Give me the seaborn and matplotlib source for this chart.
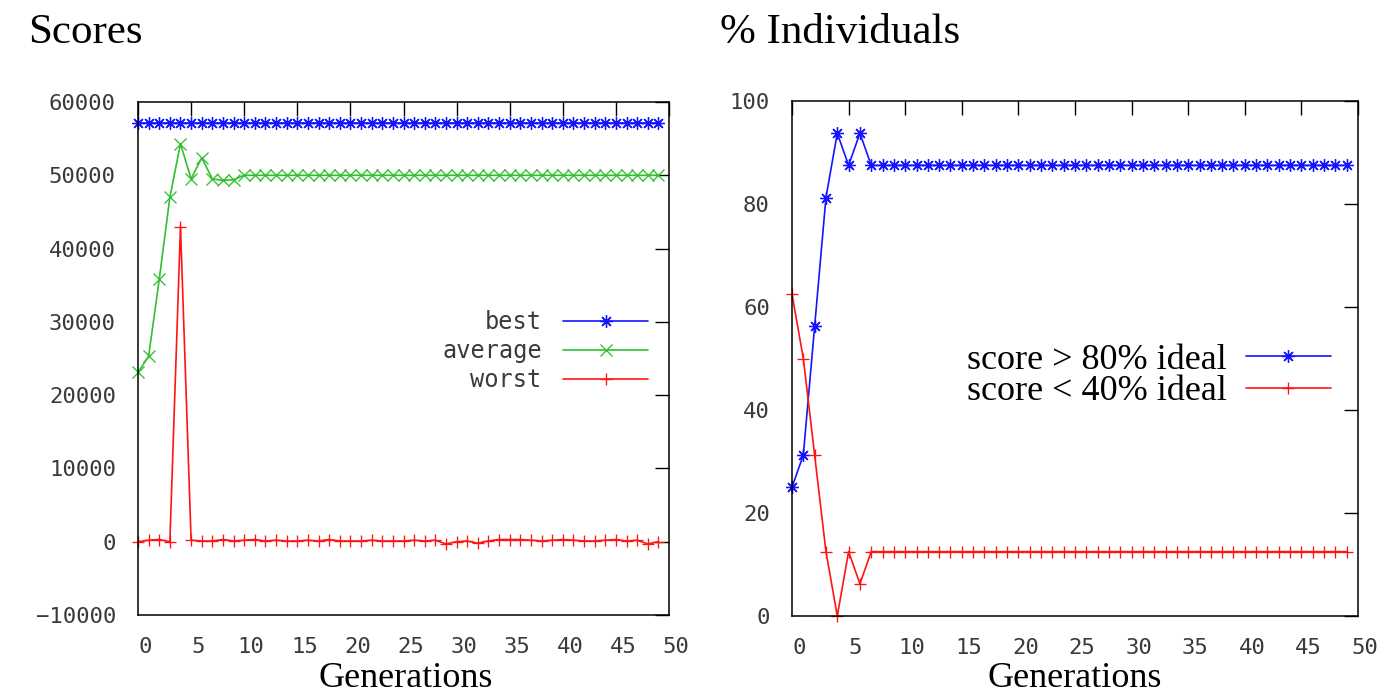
import matplotlib
matplotlib.use("Agg")
import matplotlib.pyplot as plt
from matplotlib.transforms import ScaledTranslation
import seaborn as sns

# Generation index
generations = list(range(50))

# Scores per generation
best_score = [57200] * 50
average_score = [23100, 25300, 35800, 47000, 54300, 49500, 52400, 49500, 49300, 49400] + [50000] * 40
worst_score = [0, 200, 300, 0, 43000, 200, 100, 100, 300, 100,
               200, 300, 100, 200, 100, 100, 200, 100, 300, 100,
               100, 100, 200, 100, 100, 100, 200, 100, 200, -300,
               0, 100, -200, 100, 300, 300, 300, 200, 100, 200,
               300, 200, 100, 100, 200, 300, 100, 200, -300, 0]

# Share of individuals (%) per generation
pct_above_80 = [25, 31.25, 56.25, 81.25, 93.75, 87.5, 93.75] + [87.5] * 43
pct_below_40 = [62.5, 50, 31.25, 12.5, 0, 12.5, 6.25] + [12.5] * 43

x_ticks = list(range(0, 51, 5))
score_ticks = list(range(-10000, 60001, 10000))
pct_ticks = list(range(0, 101, 20))

BLUE = "#1414ff"
GREEN = "#30c030"
RED = "#ff1414"
ASTERISK = (8, 2, 0)

sns.set_theme(style="white")
plt.rcParams["font.family"] = ["DejaVu Sans Mono"]
plt.rcParams["text.color"] = "black"

MONO = "DejaVu Sans Mono"
SERIF = "Liberation Serif"
TICK_COLOR = "#3a3a3a"

W, H = 1399, 693
fig = plt.figure(figsize=(W / 100, H / 100), dpi=100)
fig.patch.set_facecolor("white")


def px_axes(left, top, right, bottom):
    return fig.add_axes([left / W, 1 - bottom / H, (right - left) / W, (bottom - top) / H])


ax1 = px_axes(138, 102, 669, 615)
ax2 = px_axes(792, 101, 1358, 616)


def draw(ax, y, color, marker, label):
    sns.lineplot(x=generations, y=y, ax=ax, color=color, marker=marker,
                 markersize=9, markeredgecolor=color, markeredgewidth=0.95,
                 linewidth=1.2, label=label, clip_on=False, errorbar=None)


draw(ax1, best_score, BLUE, ASTERISK, "best")
draw(ax1, average_score, GREEN, "x", "average")
draw(ax1, worst_score, RED, "+", "worst")

draw(ax2, pct_above_80, BLUE, ASTERISK, "score > 80% ideal")
draw(ax2, pct_below_40, RED, "+", "score < 40% ideal")

ax1.set_xlim(0, 50)
ax1.set_ylim(-10000, 60000)
ax1.set_yticks(score_ticks)
ax2.set_xlim(0, 50)
ax2.set_ylim(0, 100)
ax2.set_yticks(pct_ticks)

shift = ScaledTranslation(7 / 100, 0, fig.dpi_scale_trans)
for ax in (ax1, ax2):
    ax.set_xticks(x_ticks)
    ax.tick_params(axis="both", which="major", direction="in", length=10, width=1.0,
                   color="black", top=True, right=True, pad=16,
                   labelsize=16, labelcolor=TICK_COLOR)
    for lab in ax.get_xticklabels() + ax.get_yticklabels():
        lab.set_fontfamily(MONO)
    for lab in ax.get_xticklabels():
        lab.set_transform(lab.get_transform() + shift)
    for sp in ax.spines.values():
        sp.set_visible(True)
        sp.set_color("black")
        sp.set_linewidth(1.1)
    ax.set_ylabel("")
    ax.set_xlabel("")
    ax.grid(False)

# Panel titles and x-axis captions
fig.text(28 / W, 1 - 43 / H, "Scores", family=SERIF, fontsize=31, color="black",
         ha="left", va="baseline")
fig.text(720 / W, 1 - 43 / H, "% Individuals", family=SERIF, fontsize=31, color="black",
         ha="left", va="baseline")
fig.text(406 / W, 1 - 687 / H, "Generations", family=SERIF, fontsize=26, color="black",
         ha="center", va="baseline")
fig.text(1075 / W, 1 - 687 / H, "Generations", family=SERIF, fontsize=26, color="black",
         ha="center", va="baseline")

# Legends: label on the left, sample line on the right
h1, l1 = ax1.get_legend_handles_labels()
leg1 = ax1.legend(h1, l1, loc="center right", bbox_to_anchor=(648 / W, 1 - 351 / H),
                  bbox_transform=fig.transFigure, markerfirst=False, frameon=False,
                  handlelength=3.6, handletextpad=0.9, labelspacing=0.22,
                  borderpad=0, borderaxespad=0,
                  prop={"family": MONO, "size": 17})
for t in leg1.get_texts():
    t.set_color(TICK_COLOR)

h2, l2 = ax2.get_legend_handles_labels()
leg2 = ax2.legend(h2, l2, loc="center right", bbox_to_anchor=(1331 / W, 1 - 376 / H),
                  bbox_transform=fig.transFigure, markerfirst=False, frameon=False,
                  handlelength=2.36, handletextpad=0.53, labelspacing=-0.06,
                  borderpad=0, borderaxespad=0,
                  prop={"family": SERIF, "size": 26})
for t in leg2.get_texts():
    t.set_color("black")

fig.savefig("out.png", dpi=100, facecolor="white")
